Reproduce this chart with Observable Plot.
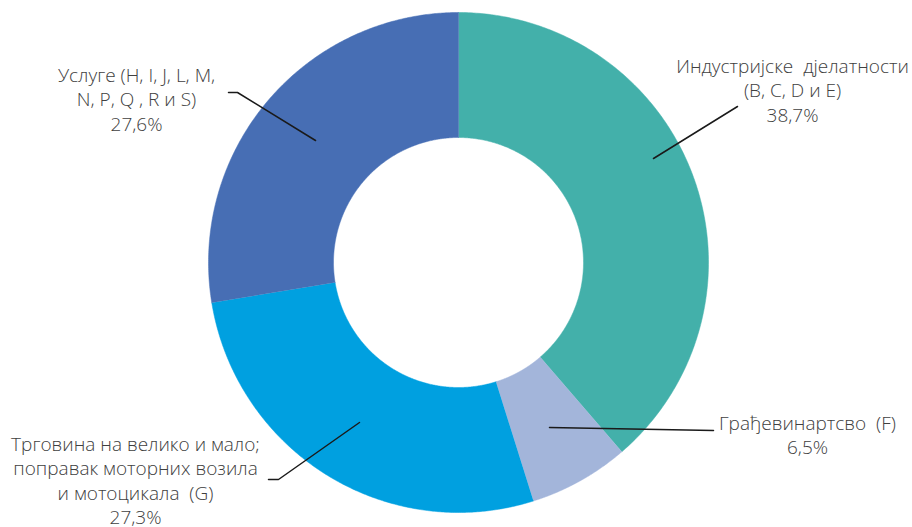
<!DOCTYPE html>
<html>
<head>
<meta charset="utf-8">
<script src="https://cdn.jsdelivr.net/npm/d3@7"></script>
<script src="https://cdn.jsdelivr.net/npm/@observablehq/plot@0.6"></script>
<style>
  html, body { margin: 0; padding: 0; background: #fff; }
  #chart { width: 912px; height: 527px; }
</style>
</head>
<body>
<div id="chart"></div>
<script>
// ---- data ----
const categories = [
  "Индустријске дјелатности (B, C, D и E)",
  "Грађевинартсво (F)",
  "Трговина на велико и мало; поправак моторних возила и мотоцикала (G)",
  "Услуге (H, I, J, L, M, N, P, Q , R и S)"
];
const shares = [38.7, 6.5, 27.3, 27.6];
const valueLabels = ["38,7%", "6,5%", "27,3%", "27,6%"];
const labelLines = [
  ["Индустријске  дјелатности", "(B, C, D и E)"],
  ["Грађевинартсво  (F)"],
  ["Трговина на велико и мало;", "поправак моторних возила", "и мотоцикала  (G)"],
  ["Услуге (H, I, J, L, M,", "N, P, Q , R и S)"]
];
const colors = ["#43B0AA", "#A3B5DA", "#00A0E0", "#476EB4"];

// ---- layout (pixels) ----
const W = 912, H = 527;
const cx = 458, cy = 262, rOuter = 250, rInner = 125;
const labelPos = [[792, 55], [807, 412], [135, 433], [136, 64]];
const leaders = [
  [[653, 158], [737, 106]],
  [[549, 427], [713, 430]],
  [[359, 422], [278, 479], [268, 479]],
  [[315, 140], [237, 92], [228, 92]]
];

// ---- geometry ----
const pie = d3.pie().sort(null).value(d => d)(shares);
const slices = [];
pie.forEach((p, i) => {
  const n = 240;
  const a0 = p.startAngle, a1 = p.endAngle;
  const pts = [];
  for (let k = 0; k <= n; k++) {
    const a = a0 + (a1 - a0) * k / n;
    pts.push([cx + rOuter * Math.sin(a), cy - rOuter * Math.cos(a)]);
  }
  for (let k = n; k >= 0; k--) {
    const a = a0 + (a1 - a0) * k / n;
    pts.push([cx + rInner * Math.sin(a), cy - rInner * Math.cos(a)]);
  }
  pts.forEach(([x, y]) => slices.push({x, y, cat: categories[i]}));
});

const texts = categories.map((c, i) => ({
  cat: c,
  x: labelPos[i][0],
  y: labelPos[i][1],
  text: labelLines[i].concat([valueLabels[i]]).join("\n")
}));

const leaderPts = [];
leaders.forEach((pts, i) => pts.forEach(([x, y]) => leaderPts.push({x, y, cat: categories[i]})));

const chart = Plot.plot({
  width: W,
  height: H,
  margin: 0,
  x: {domain: [0, W], axis: null},
  y: {domain: [0, H], reverse: true, axis: null},
  color: {domain: categories, range: colors},
  style: {fontFamily: "'Open Sans', sans-serif", background: "#fff"},
  marks: [
    Plot.line(slices, {x: "x", y: "y", z: "cat", fill: "cat", stroke: "cat", strokeWidth: 0.5, curve: "linear"}),
    Plot.line(leaderPts, {x: "x", y: "y", z: "cat", stroke: "#1a1a1a", strokeWidth: 1.5}),
    Plot.text(texts, {
      x: "x", y: "y", text: "text",
      lineAnchor: "top", textAnchor: "middle",
      fontSize: 19, lineHeight: 1.29, fill: "#404040", fontWeight: 300
    })
  ]
});
document.getElementById("chart").appendChild(chart);
</script>
</body>
</html>
